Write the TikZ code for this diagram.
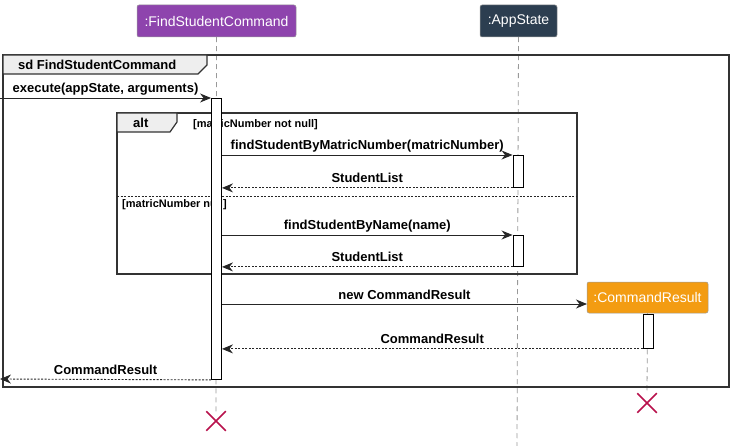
\documentclass[tikz,border=0pt]{standalone}
\usepackage{fontspec}
\setmainfont{Liberation Sans}
\usetikzlibrary{arrows.meta,shapes.misc}
\definecolor{fscpurple}{HTML}{8E44AD}
\definecolor{appdark}{HTML}{2C3E50}
\definecolor{crorange}{HTML}{F39C12}
\definecolor{xred}{HTML}{B8124C}
\definecolor{tabgray}{HTML}{EEEEEE}
\definecolor{framegray}{HTML}{333333}
\tikzset{
  part/.style={rounded corners=2pt, draw=black!40, line width=0.5pt, text=white, inner sep=0pt,
    font=\fontsize{14}{16}\selectfont},
  life/.style={draw=gray!80, line width=0.8pt, dash pattern=on 5pt off 4pt},
  actbox/.style={draw=black, fill=white, line width=0.9pt, minimum width=10pt, inner sep=0pt, anchor=north},
  msg/.style={draw=black!85, line width=0.9pt, -{Stealth[length=11pt,width=9pt,inset=3.5pt]}},
  ret/.style={msg, dash pattern=on 2pt off 1.5pt},
  lbl/.style={font=\bfseries\fontsize{13}{15}\selectfont, inner sep=0pt, anchor=base},
  guard/.style={font=\bfseries\fontsize{11}{13}\selectfont, inner sep=0pt, anchor=base west},
  frameline/.style={draw=framegray, line width=1.5pt},
  tabtext/.style={font=\bfseries\fontsize{13}{15}\selectfont, inner sep=0pt, anchor=base west},
  xmark/.style={cross out, draw=xred, line width=1.5pt, minimum size=18pt, inner sep=0pt}
}
\begin{document}
\begin{tikzpicture}[x=1pt,y=-1pt]
\useasboundingbox (0,0) rectangle (733,446);
% participants
\node[part, fill=fscpurple, minimum width=159pt, minimum height=32pt] (fsc) at (216.5,21) {:FindStudentCommand};
\node[part, fill=appdark, minimum width=77pt, minimum height=32pt] (app) at (518.5,21) {:AppState};
\node[part, fill=crorange, minimum width=121pt, minimum height=31pt] (cr) at (647.5,297.5) {:CommandResult};
% destroy marks
\node[xmark] (fscx) at (216,421) {};
\node[xmark] (crx) at (647,403) {};
\coordinate (append) at (517,446);
% lifelines
\draw[life] (fsc.south) -- (fscx.north);
\draw[life] (app.south) -- (append);
\draw[life] (cr.south) -- (crx.north);
% outer frame
\draw[frameline] (3,55) rectangle (729,387);
\filldraw[frameline, fill=tabgray, line width=1.2pt] (3,55) -- (207,55) -- (207,65) -- (198,74) -- (3,74) -- cycle;
\node[tabtext] (sdt) at (18,69.5) {sd FindStudentCommand};
% alt frame
\draw[frameline] (117,113) rectangle (577,274);
\filldraw[frameline, fill=tabgray, line width=1.2pt] (117,113) -- (177,113) -- (177,122) -- (170,132) -- (117,132) -- cycle;
\node[tabtext] (altt) at (133,127.5) {alt};
\draw[draw=black!85, line width=0.8pt, dash pattern=on 2pt off 1.5pt] (117,196) -- (577,196);
\node[guard] (g1) at (193,128) {[matricNumber not null]};
\node[guard] (g2) at (122,208) {[matricNumber null]};
% activations
\node[actbox, minimum height=281pt] (fa) at (216.5,98) {};
\node[actbox, minimum height=32pt] (a1) at (518,155) {};
\node[actbox, minimum height=31pt] (a2) at (518,235) {};
\node[actbox, minimum height=34pt] (ca) at (648,314) {};
% messages
\coordinate (src) at (0,98);
\coordinate (snk) at (0,379);
\coordinate (crin) at (587,304);
\draw[msg] (src) -- (fa.north west) node[lbl, midway, yshift=5pt] {execute(appState, arguments)};
\draw[msg] (fa.east |- a1.north) -- (a1.north west) node[lbl, midway, yshift=5pt] {findStudentByMatricNumber(matricNumber)};
\draw[ret] (a1.south west) -- (fa.east |- a1.south) node[lbl, midway, yshift=5pt] {StudentList};
\draw[msg] (fa.east |- a2.north) -- (a2.north west) node[lbl, midway, yshift=5pt] {findStudentByName(name)};
\draw[ret] (a2.south west) -- (fa.east |- a2.south) node[lbl, midway, yshift=5pt] {StudentList};
\draw[msg] (fa.east |- crin) -- (crin) node[lbl, midway, yshift=5pt] {new CommandResult};
\draw[ret] (ca.south west) -- (fa.east |- ca.south) node[lbl, midway, yshift=5pt] {CommandResult};
\draw[ret] (fa.south west) -- (snk) node[lbl, midway, yshift=5pt] {CommandResult};
\end{tikzpicture}
\end{document}
